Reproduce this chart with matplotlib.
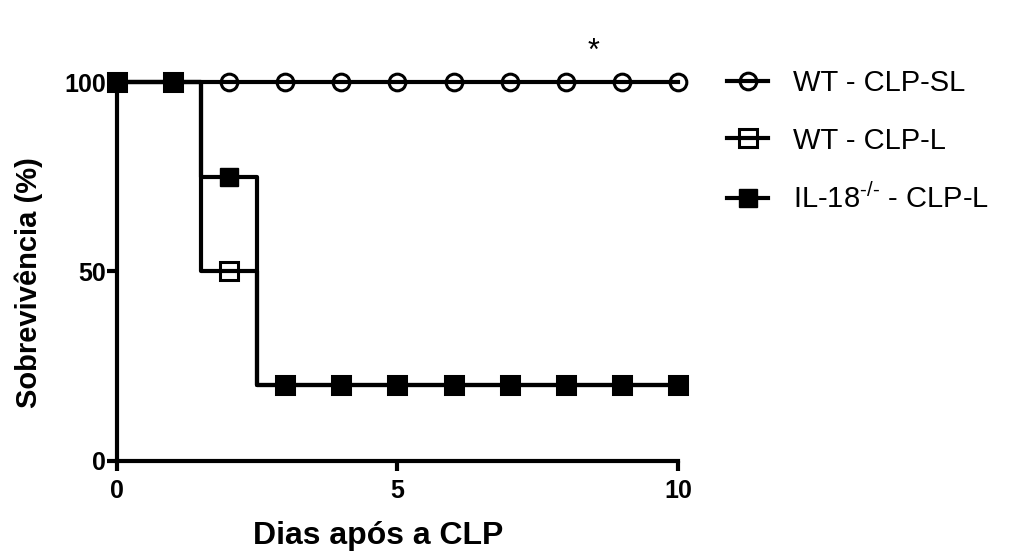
import matplotlib
matplotlib.use("Agg")
import matplotlib.pyplot as plt
import matplotlib.lines as mlines
import numpy as np

plt.rcParams['font.family'] = ['Liberation Sans', 'DejaVu Sans']
plt.rcParams['mathtext.fontset'] = 'custom'
plt.rcParams['mathtext.rm'] = 'Liberation Sans'
plt.rcParams['mathtext.it'] = 'Liberation Sans'

# data
days = np.arange(0, 11)
step_times = [0, 1.5, 2.5, 10]
sl_step = [100, 100, 100, 100]
wt_step = [100, 50, 20, 20]
il_step = [100, 75, 20, 20]
sl_marks = [100] * 11
wt_marks = [100, 100, 50, 20, 20, 20, 20, 20, 20, 20, 20]
il_marks = [100, 100, 75, 20, 20, 20, 20, 20, 20, 20, 20]
labels = ['WT - CLP-SL', 'WT - CLP-L', r'IL-18$^{\text{-/-}}$ - CLP-L']
star_x, star_y = 8.5, 108

fig = plt.figure(figsize=(10.1, 5.53), dpi=100)
ax = fig.add_axes([0.1158, 0.1664, 0.5555, 0.6853])

lw = 3
ax.step(step_times, sl_step, where='post', color='k', lw=lw, clip_on=False)
ax.step(step_times, wt_step, where='post', color='k', lw=lw, clip_on=False)
ax.step(step_times, il_step, where='post', color='k', lw=lw, clip_on=False)

ax.plot(days, sl_marks, 'o', ms=12, mfc='none', mec='k', mew=2.2, clip_on=False)
ax.plot(days, wt_marks, 's', ms=13, mfc='none', mec='k', mew=2.2, clip_on=False)
ax.plot(days, il_marks, 's', ms=13, mfc='k', mec='k', clip_on=False)

ax.text(star_x, star_y, '*', fontsize=22, ha='center', va='center')

ax.set_xlim(0, 10)
ax.set_ylim(0, 100)
ax.set_xticks([0, 5, 10])
ax.set_yticks([0, 50, 100])
for s in ['top', 'right']:
    ax.spines[s].set_visible(False)
for s in ['left', 'bottom']:
    ax.spines[s].set_linewidth(3)
ax.tick_params(width=3, length=7, labelsize=18)
ax.tick_params(axis='y', pad=1)
ax.tick_params(axis='x', pad=6)
for t in ax.get_xticklabels() + ax.get_yticklabels():
    t.set_fontweight('bold')
ax.set_xlabel('Dias após a CLP', fontsize=23, fontweight='bold')
ax.xaxis.set_label_coords(0.465, -0.158)
ax.set_ylabel('Sobrevivência (%)', fontsize=21, fontweight='bold')
ax.yaxis.set_label_coords(-0.132, 0.472)

hs = [mlines.Line2D([], [], color='k', lw=lw, marker='o', ms=12, mfc='none', mec='k', mew=2.2),
      mlines.Line2D([], [], color='k', lw=lw, marker='s', ms=13, mfc='none', mec='k', mew=2.2),
      mlines.Line2D([], [], color='k', lw=lw, marker='s', ms=13, mfc='k', mec='k')]
fig.legend(hs, labels, loc='upper left', bbox_to_anchor=(0.694, 0.922), frameon=False,
           fontsize=21, handlelength=1.4, handletextpad=0.86, labelspacing=1.0)

fig.savefig('out.png', dpi=100)
